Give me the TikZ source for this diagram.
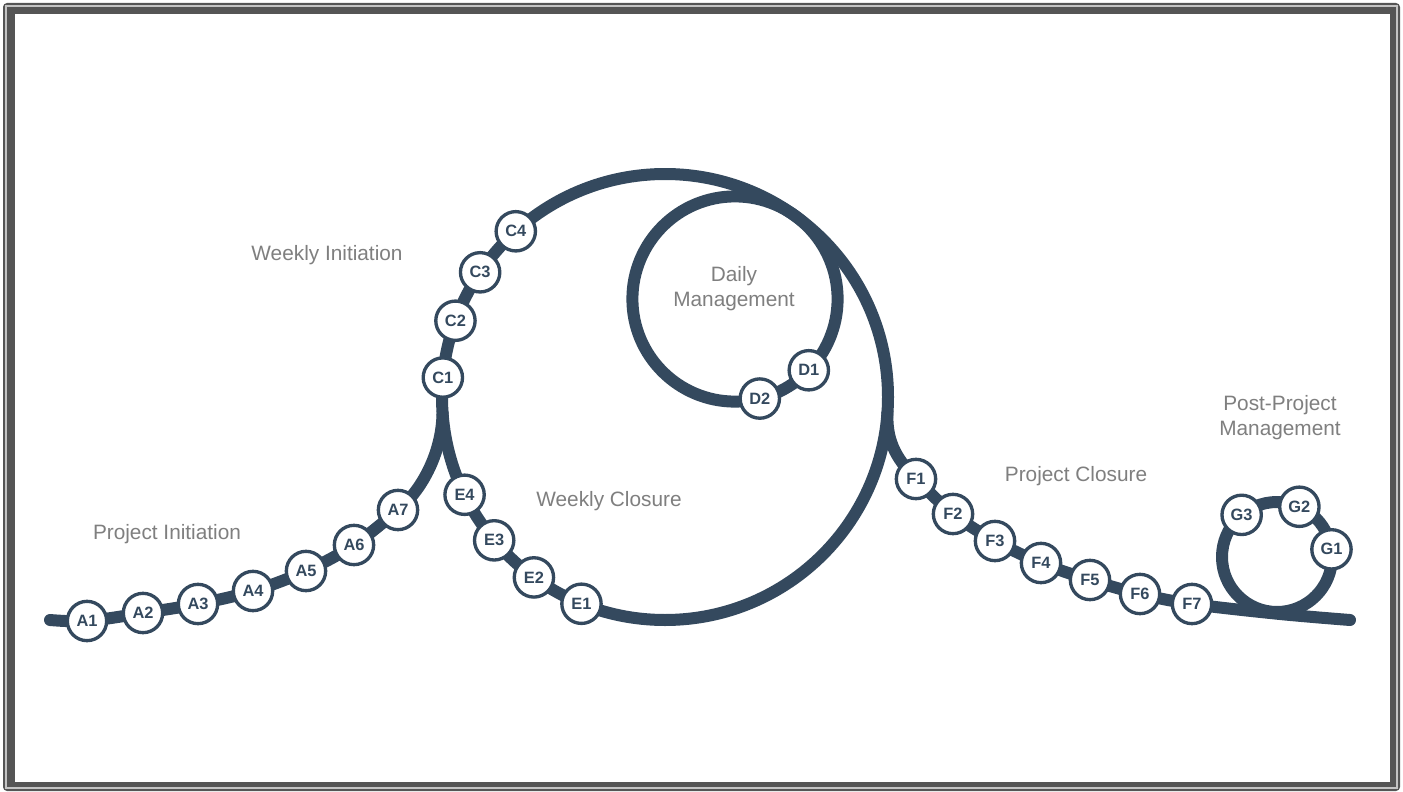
\documentclass[tikz,border=0pt]{standalone}
\usepackage{fontspec}
\setmainfont{Liberation Sans}
\usetikzlibrary{backgrounds}

\definecolor{track}{HTML}{34495E}
\definecolor{labelgray}{HTML}{7F7F7F}
\definecolor{framedark}{HTML}{555555}
\definecolor{framelight}{HTML}{C4C4C4}

\tikzset{
  stop/.style={circle, draw=track, fill=white, line width=2.5pt, minimum size=29.5pt,
    inner sep=0pt, text=track, font=\bfseries\fontsize{12.3}{13}\selectfont},
  rail/.style={draw=track, line width=9pt, line cap=round, line join=round},
  phase/.style={text=labelgray, align=center, font=\fontsize{15.6}{18.75}\selectfont}
}

\begin{document}
\begin{tikzpicture}[x=0.75pt,y=-0.75pt]
 \useasboundingbox (0,0) rectangle (1403,792);

 \coordinate (O) at (665,397);
 \coordinate (Dc) at (735,299);
 \coordinate (Gc) at (1277,557);
 \coordinate (railstart) at (50,620);
 \coordinate (railend) at (1350,620);
 \coordinate (J1) at ([shift={(176:223)}]O);
 \coordinate (J2) at ([shift={(4:223)}]O);

 % stops
 \foreach \n/\x/\y in {A1/87/621,A2/143/613,A3/198/604,A4/253/591,A5/306/571,A6/354/545,A7/398/510,
   F1/916/479,F2/953/514,F3/995/541,F4/1041/563,F5/1090/580,F6/1140/594,F7/1192/604}
   \node[stop] (\n) at (\x,\y) {\n};
 \foreach \n/\a in {C1/185,C2/200,C3/214,C4/228,E4/154,E3/140,E2/126,E1/112}
   \node[stop] (\n) at ([shift={(\a:223)}]O) {\n};
 \foreach \n/\a in {D1/44,D2/76}
   \node[stop] (\n) at ([shift={(\a:102.6)}]Dc) {\n};
 \foreach \n/\a in {G1/-8,G2/-66,G3/-130}
   \node[stop] (\n) at ([shift={(\a:55)}]Gc) {\n};

 % phase labels
 \node[phase] (projinit) at (167,534) {Project Initiation};
 \node[phase] (weekinit) at (327,255) {Weekly Initiation};
 \node[phase] (daily) at (734,289) {Daily\\Management};
 \node[phase] (weekclose) at (609,501) {Weekly Closure};
 \node[phase] (projclose) at (1076,476) {Project Closure};
 \node[phase] (postproj) at (1280,418) {Post-Project\\Management};

 \begin{pgfonlayer}{background}
  % frame
  \fill[framedark, rounded corners=3pt] (3,3) rectangle (1400,791);
  \draw[framelight, line width=0.8pt] (6,6) rectangle (1397,788);
  \fill[white] (15,14) rectangle (1390,782);

  % track
  \draw[rail] (O) circle[radius=223];
  \draw[rail] (Dc) circle[radius=102.6];
  \draw[rail] (Gc) circle[radius=55];
  \draw[rail] plot[smooth,tension=0.55] coordinates {(railstart) (A1.center) (A2.center)
      (A3.center) (A4.center) (A5.center) (A6.center) (A7.center)}
    .. controls (420,492) and (442,455) .. (J1);
  \draw[rail] (J2) .. controls (886,445) and (900,462) .. (F1.center)
    plot[smooth,tension=0.55] coordinates {(F1.center) (F2.center) (F3.center) (F4.center)
      (F5.center) (F6.center) (F7.center) (1280,614) (railend)};
 \end{pgfonlayer}
\end{tikzpicture}
\end{document}
